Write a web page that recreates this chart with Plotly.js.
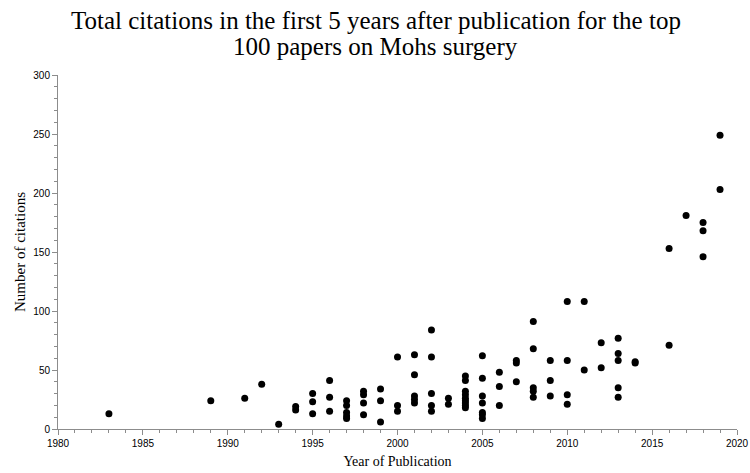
<!DOCTYPE html>
<html>
<head>
<meta charset="utf-8">
<script src="https://cdn.plot.ly/plotly-3.0.1.min.js"></script>
<style>
  body { margin: 0; background: #fff; }
  #chart { width: 750px; height: 473px; }
</style>
</head>
<body>
<div id="chart"></div>
<script>
// year of publication for each paper
var years = [
    1983, 1989, 1991, 1992, 1993,
    1994, 1994,
    1995, 1995, 1995,
    1996, 1996, 1996,
    1997, 1997, 1997, 1997, 1997,
    1998, 1998, 1998, 1998,
    1999, 1999, 1999,
    2000, 2000, 2000,
    2001, 2001, 2001, 2001, 2001,
    2002, 2002, 2002, 2002, 2002,
    2003, 2003,
    2004, 2004, 2004, 2004, 2004, 2004, 2004, 2004, 2004,
    2005, 2005, 2005, 2005, 2005, 2005, 2005,
    2006, 2006, 2006,
    2007, 2007, 2007,
    2008, 2008, 2008, 2008, 2008,
    2009, 2009, 2009,
    2010, 2010, 2010, 2010,
    2011, 2011,
    2012, 2012,
    2013, 2013, 2013, 2013, 2013,
    2014, 2014,
    2016, 2016,
    2017,
    2018, 2018, 2018,
    2019, 2019
];

// citations in first 5 years
var citations = [
    13, 24, 26, 38, 4,
    19, 16,
    30, 23, 13,
    41, 27, 15,
    24, 20, 14, 11, 9,
    32, 29, 22, 12,
    34, 24, 6,
    61, 20, 15,
    63, 46, 28, 25, 22,
    84, 61, 30, 20, 15,
    26, 21,
    45, 41, 32, 29, 26, 24, 22, 20, 18,
    62, 43, 28, 22, 14, 12, 9,
    48, 36, 20,
    58, 56, 40,
    91, 68, 35, 32, 27,
    58, 41, 28,
    108, 58, 29, 21,
    108, 50,
    73, 52,
    77, 64, 58, 35, 27,
    57, 56,
    153, 71,
    181,
    175, 168, 146,
    249, 203
];

var titleLines = [
    'Total citations in the first 5 years after publication for the top',
    '100 papers on Mohs surgery'
];

var serif = '"Liberation Serif", "Times New Roman", serif';
var sans = '"Liberation Sans", Arial, sans-serif';

var trace = {
    x: years,
    y: citations,
    type: 'scatter',
    mode: 'markers',
    marker: { color: '#000', size: 7 },
    hoverinfo: 'x+y'
};

// title drawn as two lines so the line spacing matches
var titleY = [1.155, 1.081];
var annotations = titleLines.map(function(t, i) {
    return {
        text: t,
        xref: 'paper', yref: 'paper',
        x: 0.468, y: titleY[i],
        xanchor: 'center', yanchor: 'middle',
        showarrow: false,
        font: { family: serif, size: 25, color: '#000' }
    };
});

var layout = {
    width: 750,
    height: 473,
    margin: { l: 58, r: 13, t: 75, b: 44 },
    paper_bgcolor: '#fff',
    plot_bgcolor: '#fff',
    showlegend: false,
    annotations: annotations,
    xaxis: {
        range: [1980, 2020],
        dtick: 5,
        tick0: 1980,
        showgrid: false,
        zeroline: false,
        showline: true,
        linecolor: '#8c8c8c',
        linewidth: 1,
        ticks: 'outside',
        ticklen: 5,
        tickcolor: '#8c8c8c',
        tickfont: { family: sans, size: 10, color: '#000' },
        minor: { dtick: 1, ticks: 'outside', ticklen: 3, tickcolor: '#8c8c8c', showgrid: false },
        title: { text: 'Year of Publication', font: { family: serif, size: 14, color: '#000' }, standoff: 8 }
    },
    yaxis: {
        range: [0, 300],
        dtick: 50,
        showgrid: false,
        zeroline: false,
        showline: true,
        linecolor: '#8c8c8c',
        linewidth: 1,
        ticks: 'outside',
        ticklen: 5,
        tickcolor: '#8c8c8c',
        tickfont: { family: sans, size: 10, color: '#000' },
        minor: { dtick: 10, ticks: 'outside', ticklen: 3, tickcolor: '#8c8c8c', showgrid: false },
        title: { text: 'Number of citations', font: { family: serif, size: 15, color: '#000' }, standoff: 4 }
    }
};

Plotly.newPlot('chart', [trace], layout, { displayModeBar: false, staticPlot: true });
</script>
</body>
</html>
